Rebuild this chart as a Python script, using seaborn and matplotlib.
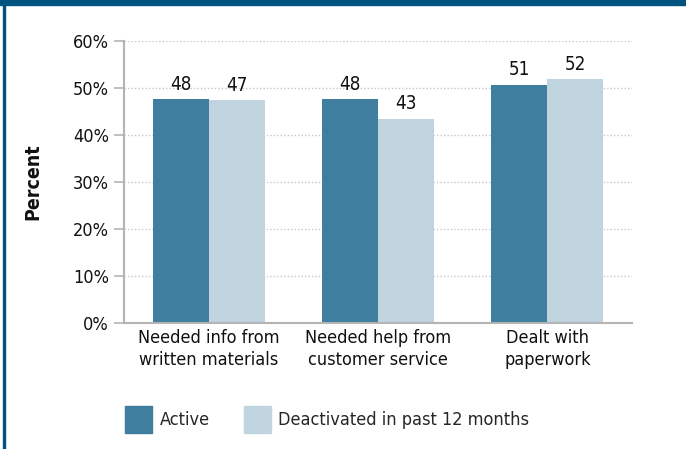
import matplotlib.pyplot as plt
import matplotlib.patches as mpatches
import seaborn as sns
import pandas as pd

sns.set_theme(style="white")
plt.rcParams['font.family'] = ['DejaVu Sans']
plt.rcParams['font.stretch'] = 'condensed'

# Data
categories = ['Needed info from\nwritten materials', 'Needed help from\ncustomer service', 'Dealt with\npaperwork']
groups = ['Active', 'Deactivated in past 12 months']
active = [47.6, 47.6, 50.7]
deactivated = [47.4, 43.4, 51.9]
yticks = [0, 10, 20, 30, 40, 50, 60]

PALETTE = {'Active': '#3F7E9E', 'Deactivated in past 12 months': '#BFD4DF'}
BORDER = '#00527F'
GRAY = '#B4B4B4'
TEXT = '#111111'
FS = 13

df = pd.DataFrame({
    'category': categories * 2,
    'group': [groups[0]] * 3 + [groups[1]] * 3,
    'value': active + deactivated,
})

fig = plt.figure(figsize=(6.86, 4.49), dpi=100)
ax = fig.add_axes([0.1808, 0.2806, 0.7405, 0.628])

sns.barplot(data=df, x='category', y='value', hue='group', order=categories,
            hue_order=groups, palette=PALETTE, width=0.66, saturation=1,
            linewidth=0, errorbar=None, legend=False, ax=ax)

# Value labels above bars
for container in ax.containers:
    ax.bar_label(container, labels=[f'{v:.0f}' for v in container.datavalues],
                 padding=4, fontsize=13.5, color=TEXT)

ax.set_ylim(0, 60)
ax.set_xlim(-0.5, 2.5)
ax.set_yticks(yticks)
ax.set_yticklabels([f'{t}%' for t in yticks], fontsize=FS, color=TEXT)
ax.set_xticks(range(3))
ax.set_xticklabels(categories, fontsize=FS, color=TEXT, linespacing=1.35)
ax.set_xticks([-0.5, 0.5, 1.5, 2.5], minor=True)
ax.tick_params(axis='x', which='major', length=0, pad=4)
ax.tick_params(axis='x', which='minor', length=6, width=1.2, color=GRAY, direction='out')
ax.tick_params(axis='y', length=7, width=1.2, color=GRAY, direction='out', pad=4, left=True)

ax.yaxis.grid(True, linestyle=(0, (1, 1.5)), color='#C8C8C8', linewidth=1)
ax.set_axisbelow(True)
for side in ['top', 'right']:
    ax.spines[side].set_visible(False)
for side in ['left', 'bottom']:
    ax.spines[side].set_color(GRAY)
    ax.spines[side].set_linewidth(1.5)

ax.set_xlabel('')
ax.set_ylabel('Percent', fontsize=14, fontweight='bold', color=TEXT, labelpad=22)

# Legend below the chart
handles = [mpatches.Patch(color=PALETTE[g], label=g) for g in groups]
fig.legend(handles=handles, loc='upper left', bbox_to_anchor=(0.172, 0.112),
           ncol=2, frameon=False, fontsize=FS, handlelength=1.5,
           handleheight=1.9, handletextpad=0.4, columnspacing=1.9,
           borderaxespad=0)

# Frame: dark band on top, thin line on left
fig.patches.append(mpatches.Rectangle((0, 0.988), 1, 0.012, transform=fig.transFigure,
                                      color=BORDER, zorder=0))
fig.patches.append(mpatches.Rectangle((0.004, 0), 0.003, 1, transform=fig.transFigure,
                                      color=BORDER, zorder=0))

fig.savefig('out.png', dpi=100)
